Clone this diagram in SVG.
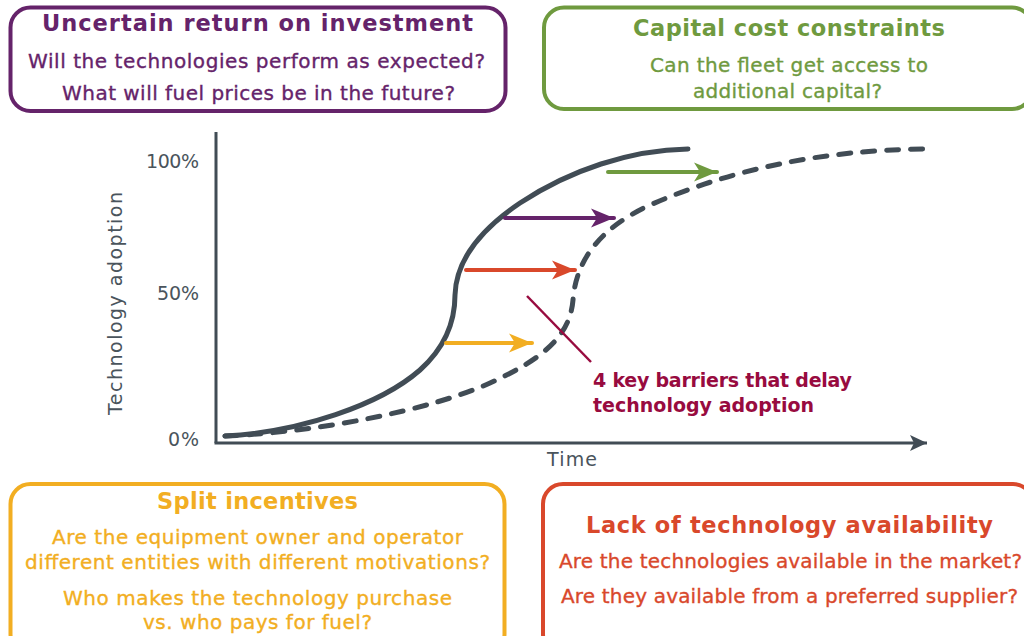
<svg xmlns="http://www.w3.org/2000/svg" width="1024" height="636" viewBox="0 0 1024 636">
<defs>
<style>
.box{fill:#fff;stroke-width:4}
.t{font-family:"DejaVu Sans","Liberation Sans",sans-serif;font-weight:bold;font-size:22.5px;text-anchor:middle}
.b{font-family:"DejaVu Sans","Liberation Sans",sans-serif;font-size:20px;text-anchor:middle;stroke-width:0.35px}
.lab{font-family:"DejaVu Sans","Liberation Sans",sans-serif;font-size:19px;fill:#4a545c}
.purple{fill:#65236a;stroke:#65236a}.green{fill:#6f9a3f;stroke:#6f9a3f}.yellow{fill:#f2ae22;stroke:#f2ae22}.red{fill:#d9482b;stroke:#d9482b}
.t.purple,.t.green,.t.yellow,.t.red{stroke:none}
.curve{fill:none;stroke:#414c55;stroke-width:5;stroke-linecap:round}
.arr{stroke-width:4;stroke-linecap:round;fill:none}
</style>
<marker id="hG" markerUnits="userSpaceOnUse" markerWidth="24" markerHeight="20" viewBox="0 0 24 20" refX="23" refY="10" orient="auto"><path d="M0,0.5 L23,10 L0,19.5 L6,10 Z" fill="#6f9a3f"/></marker>
<marker id="hP" markerUnits="userSpaceOnUse" markerWidth="24" markerHeight="20" viewBox="0 0 24 20" refX="23" refY="10" orient="auto"><path d="M0,0.5 L23,10 L0,19.5 L6,10 Z" fill="#65236a"/></marker>
<marker id="hR" markerUnits="userSpaceOnUse" markerWidth="24" markerHeight="20" viewBox="0 0 24 20" refX="23" refY="10" orient="auto"><path d="M0,0.5 L23,10 L0,19.5 L6,10 Z" fill="#d9482b"/></marker>
<marker id="hY" markerUnits="userSpaceOnUse" markerWidth="24" markerHeight="20" viewBox="0 0 24 20" refX="23" refY="10" orient="auto"><path d="M0,0.5 L23,10 L0,19.5 L6,10 Z" fill="#f2ae22"/></marker>
<marker id="hA" markerUnits="userSpaceOnUse" markerWidth="18" markerHeight="18" viewBox="0 0 18 18" refX="17" refY="9" orient="auto"><path d="M0,1 L17,9 L0,17 L4,9 Z" fill="#414c55"/></marker>
</defs>
<rect width="1024" height="636" fill="#fff"/>

<g id="box-roi">
<rect class="box" x="10.5" y="7.5" width="495" height="103.5" rx="20" stroke="#65236a"/>
<text class="t purple" x="257.5" y="31" textLength="431">Uncertain return on investment</text>
<text class="b purple" x="256.5" y="68" textLength="457">Will the technologies perform as expected?</text>
<text class="b purple" x="258.5" y="100" textLength="393">What will fuel prices be in the future?</text>
</g>

<g id="box-capital">
<rect class="box" x="544" y="7.5" width="488" height="101.5" rx="20" stroke="#6f9a3f"/>
<text class="t green" x="789" y="36" textLength="312">Capital cost constraints</text>
<text class="b green" x="789" y="72" textLength="278">Can the fleet get access to</text>
<text class="b green" x="787.5" y="98" textLength="189">additional capital?</text>
</g>

<g id="box-split">
<rect class="box" x="10.5" y="484" width="494" height="170" rx="20" stroke="#f2ae22"/>
<text class="t yellow" x="257.5" y="509" textLength="201">Split incentives</text>
<text class="b yellow" x="257.5" y="544" textLength="411">Are the equipment owner and operator</text>
<text class="b yellow" x="257.5" y="569" textLength="465">different entities with different motivations?</text>
<text class="b yellow" x="257.5" y="605" textLength="389">Who makes the technology purchase</text>
<text class="b yellow" x="257.5" y="629" textLength="229">vs. who pays for fuel?</text>
</g>

<g id="box-availability">
<rect class="box" x="543" y="484" width="490" height="170" rx="20" stroke="#d9482b"/>
<text class="t red" x="789.5" y="533" textLength="407">Lack of technology availability</text>
<text class="b red" x="790.5" y="568" textLength="463">Are the technologies available in the market?</text>
<text class="b red" x="789.5" y="603" textLength="457">Are they available from a preferred supplier?</text>
</g>

<g id="chart">
<line x1="216" y1="132" x2="216" y2="443" stroke="#414c55" stroke-width="3"/>
<line x1="214.5" y1="443" x2="927" y2="443" stroke="#414c55" stroke-width="3" marker-end="url(#hA)"/>
<text class="lab" x="199" y="168" text-anchor="end" textLength="53">100%</text>
<text class="lab" x="199" y="300" text-anchor="end" textLength="42">50%</text>
<text class="lab" x="199" y="446" text-anchor="end" textLength="31">0%</text>
<text class="lab" font-size="21" text-anchor="middle" textLength="223" transform="translate(122,303.5) rotate(-90)">Technology adoption</text>
<text class="lab" font-size="20" x="572" y="466" text-anchor="middle" textLength="50">Time</text>
<path class="curve" d="M225,436 C300,432 380,405 420,370 C450,343 455,315 455,295 C456,260 480,230 520,203 C570,170 630,150 688,149"/>
<path class="curve" stroke-dasharray="12 12" d="M225,436 C320,432 430,410 490,383 C545,358 570,335 573,300 C576,260 600,228 650,205 C730,170 820,150 925,149"/>
</g>

<g id="connectors">
<line class="arr" x1="608" y1="172" x2="717" y2="172" stroke="#6f9a3f" marker-end="url(#hG)"/>
<line class="arr" x1="505" y1="218" x2="614" y2="218" stroke="#65236a" marker-end="url(#hP)"/>
<line class="arr" x1="466" y1="270" x2="575" y2="270" stroke="#d9482b" marker-end="url(#hR)"/>
<line class="arr" x1="446" y1="343" x2="532" y2="343" stroke="#f2ae22" marker-end="url(#hY)"/>
<line x1="527" y1="296" x2="591" y2="362" stroke="#980b3f" stroke-width="2.5"/>
</g>

<g id="barrier-label" font-family="DejaVu Sans, Liberation Sans, sans-serif" font-weight="bold" font-size="19" fill="#980b3f">
<text x="593" y="387" textLength="259">4 key barriers that delay</text>
<text x="593" y="412" textLength="221">technology adoption</text>
</g>
</svg>
